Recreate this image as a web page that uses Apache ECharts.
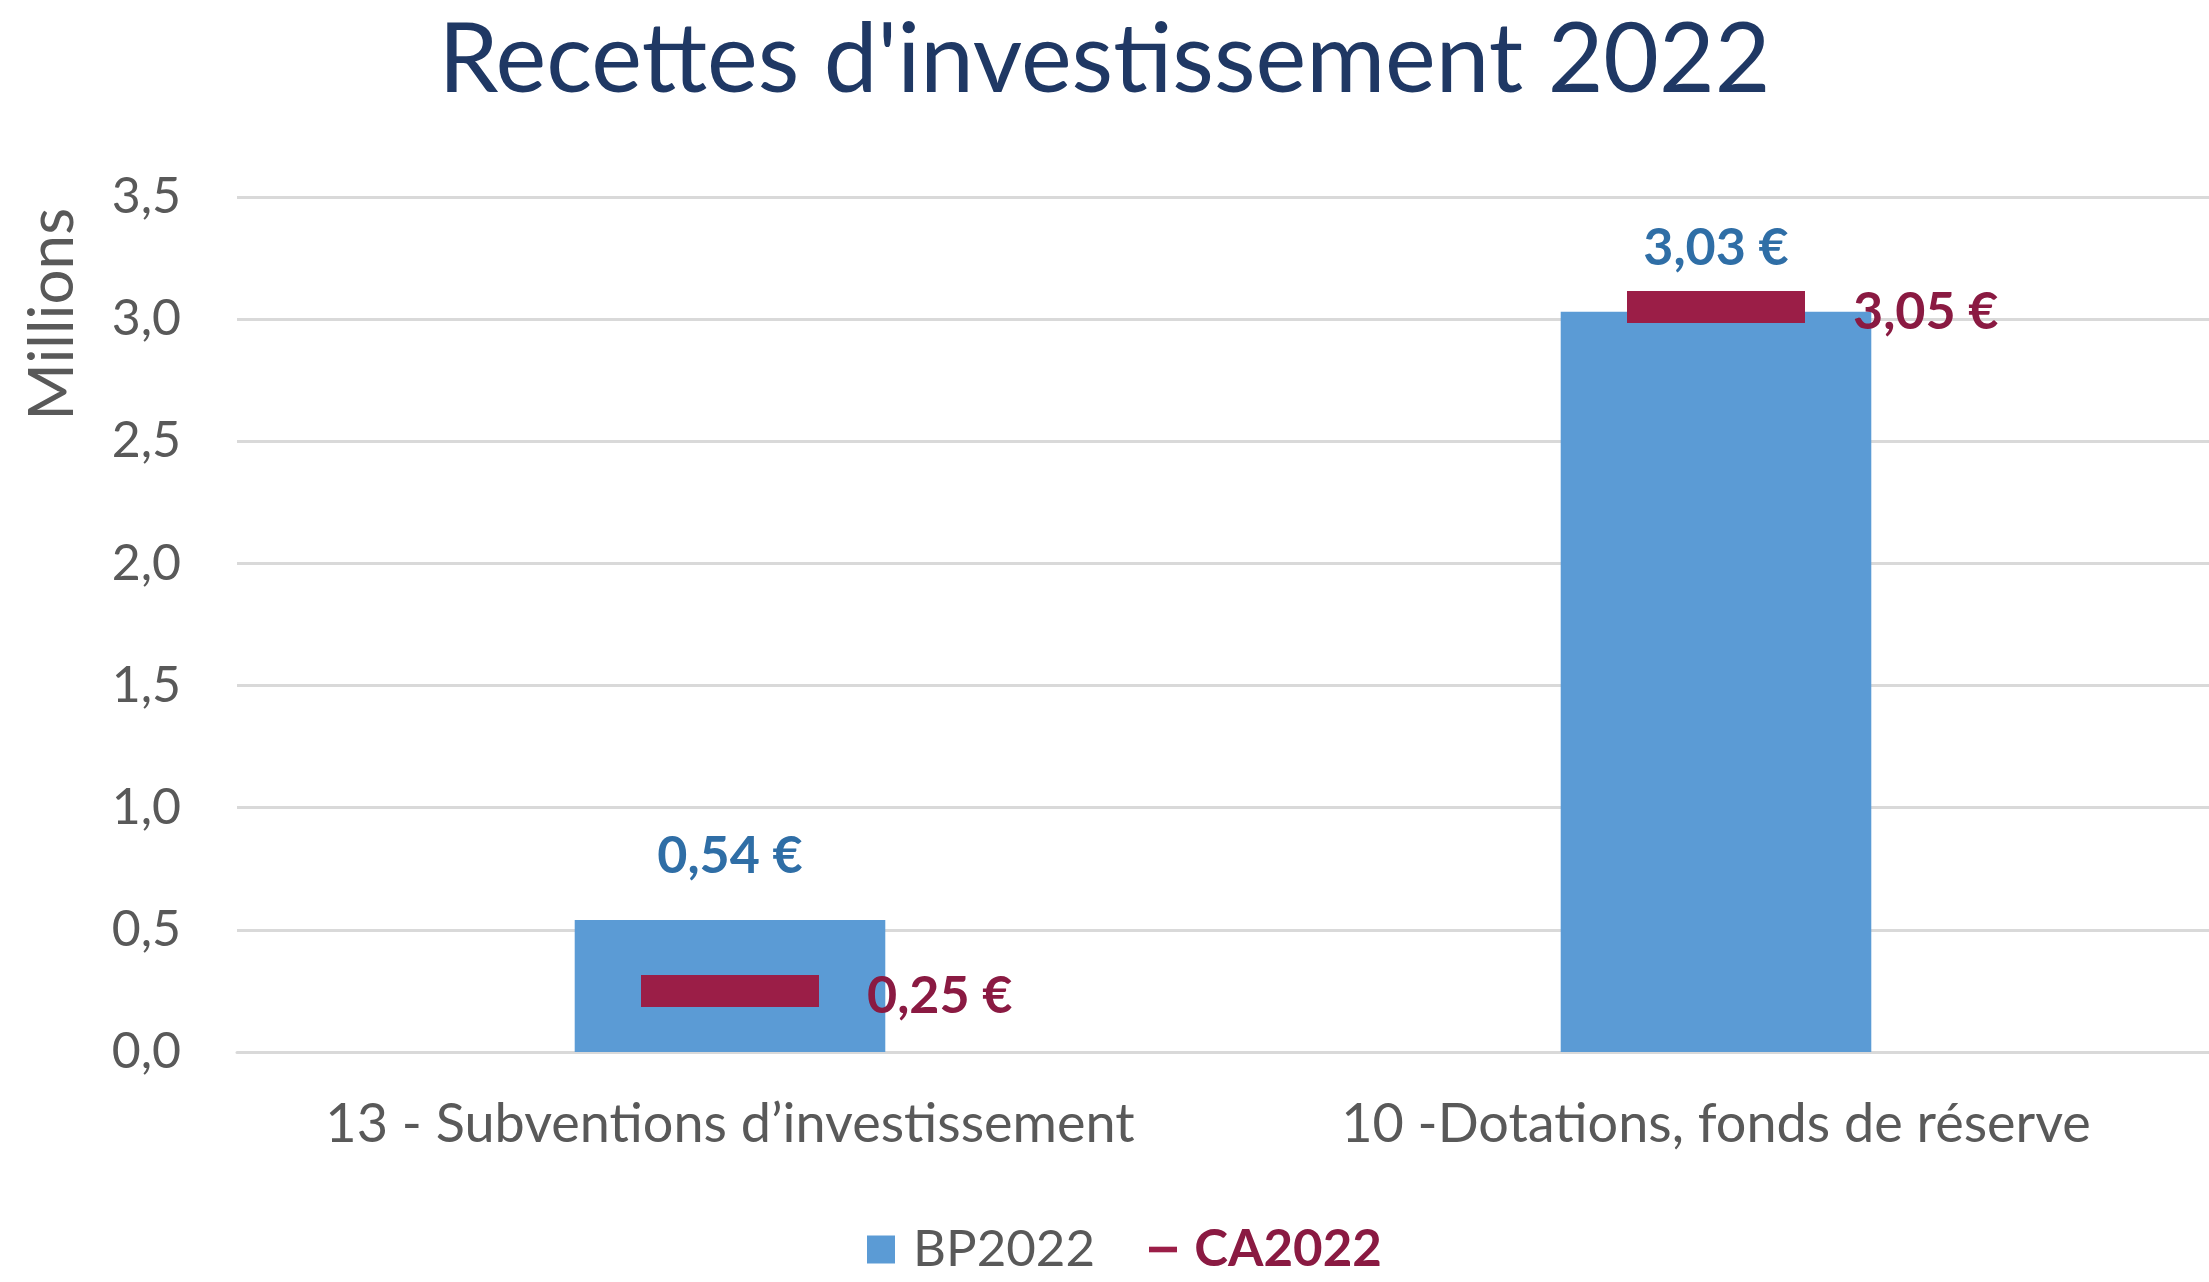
<!DOCTYPE html>
<html>
<head>
<meta charset="utf-8">
<script src="https://cdn.jsdelivr.net/npm/echarts@6/dist/echarts.min.js"></script>
<style>
  html, body { margin: 0; padding: 0; background: #fff; }
  #chart { width: 2209px; height: 1282px; }
</style>
</head>
<body>
<div id="chart"></div>
<script>
const categories = ["13 - Subventions d\u2019investissement", "10 -Dotations, fonds de r\u00e9serve"];
const bp2022 = [0.54, 3.03];
const ca2022 = [0.25, 3.05];
const yTicks = [0, 0.5, 1, 1.5, 2, 2.5, 3, 3.5];

const blue = '#5B9BD5';
const blueText = '#2F6EA6';
const crimson = '#9B1E47';
const crimsonText = '#8A1A42';
const grey = '#595959';
const font = 'Lato';

const fmt = (v, d) => v.toFixed(d).replace('.', ',');

const myChart = echarts.init(document.getElementById('chart'));

let option = {
  animation: false,
  textStyle: { fontFamily: font },
  title: {
    text: "Recettes d'investissement 2022",
    left: 'center',
    top: 8,
    textStyle: {
      color: '#1F3864',
      fontSize: 96,
      fontWeight: 'normal',
      fontFamily: font,
    },
  },
  // "Millions" sits near the top of the value axis, not centred on it
  graphic: [
    {
      type: 'text',
      left: 22,
      top: 208,
      rotation: Math.PI / 2,
      style: {
        text: 'Millions',
        fill: grey,
        fontSize: 62,
        fontFamily: font,
      },
    },
  ],
  legend: {
    bottom: 2,
    left: 862,
    itemGap: 54,
    itemWidth: 28,
    itemHeight: 28,
    textStyle: { fontSize: 51, color: grey, fontFamily: font },
    formatter: (name) => ' ' + name,
    data: [
      { name: 'BP2022', icon: 'rect' },
      {
        name: 'CA2022',
        icon: 'path://M0,0 H10 V2 H0 Z',
        textStyle: { color: crimsonText, fontWeight: 'bold' },
      },
    ],
  },
  grid: {
    left: 237,
    right: 0,
    top: 197,
    bottom: 230,
  },
  xAxis: {
    type: 'category',
    data: categories,
    axisTick: { show: false },
    axisLine: { lineStyle: { color: '#D9D9D9', width: 3 } },
    axisLabel: {
      interval: 0,
      hideOverlap: false,
      color: grey,
      fontSize: 54,
      margin: 46,
      fontFamily: font,
    },
  },
  yAxis: {
    type: 'value',
    min: yTicks[0],
    max: yTicks[yTicks.length - 1],
    interval: 0.5,
    axisLine: { show: false },
    axisTick: { show: false },
    axisLabel: {
      color: grey,
      fontSize: 50,
      margin: 56,
      fontFamily: font,
      formatter: (v) => fmt(v, 1),
    },
    splitLine: { lineStyle: { color: '#D9D9D9', width: 3 } },
  },
  series: [
    {
      name: 'BP2022',
      type: 'bar',
      data: bp2022,
      barWidth: '31.5%',
      itemStyle: { color: blue },
      emphasis: { disabled: true },
      label: {
        show: true,
        position: 'top',
        distance: 38,
        color: blueText,
        fontWeight: 'bold',
        fontSize: 52,
        fontFamily: font,
        formatter: (p) => fmt(p.value, 2) + ' \u20ac',
      },
    },
    {
      name: 'CA2022',
      type: 'line',
      data: ca2022,
      z: 5,
      symbol: 'rect',
      symbolSize: [178, 32],
      lineStyle: { opacity: 0 },
      itemStyle: { color: crimson },
      emphasis: { disabled: true },
      label: {
        show: true,
        position: 'right',
        distance: 48,
        offset: [0, 5],
        color: crimsonText,
        fontWeight: 'bold',
        fontSize: 52,
        fontFamily: font,
        formatter: (p) => fmt(p.value, 2) + ' \u20ac',
      },
    },
  ],
};

myChart.setOption(option);
</script>
</body>
</html>
